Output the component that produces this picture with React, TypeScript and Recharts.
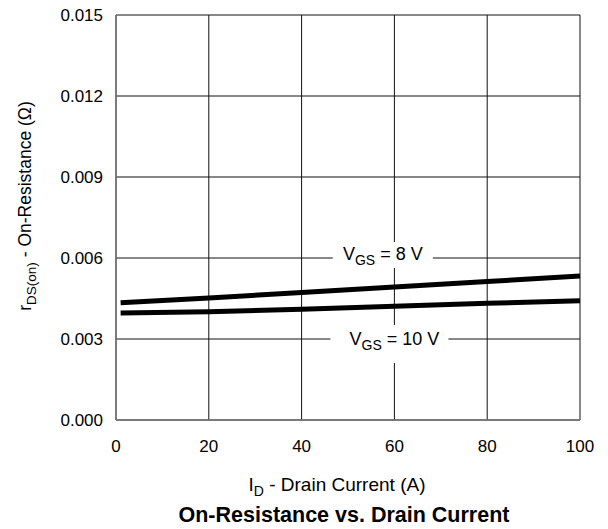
import React from 'react';
import { LineChart, Line, XAxis, YAxis, CartesianGrid, ReferenceDot } from 'recharts';

const drainCurrent = [1, 20, 40, 60, 80, 100];
const rdsVgs8 = [0.00434, 0.00452, 0.00472, 0.00493, 0.00513, 0.00533];
const rdsVgs10 = [0.00396, 0.00401, 0.0041, 0.00421, 0.00432, 0.00442];
const xTicks = [0, 20, 40, 60, 80, 100];
const yTicks = [0, 0.003, 0.006, 0.009, 0.012, 0.015];

const data = drainCurrent.map((id, i) => ({ id, v8: rdsVgs8[i], v10: rdsVgs10[i] }));

const FONT = '"Liberation Sans", Arial, Helvetica, sans-serif';

const Label8 = (props: any) => {
  const { cx, cy } = props;
  return (
    <g>
      <rect x={cx - 50} y={cy - 16} width={100} height={26} fill="#fff" />
      <text x={cx} y={cy + 2} textAnchor="middle" fontFamily={FONT} fontSize={18} fill="#000">
        V<tspan dy={5} fontSize={14}>GS</tspan><tspan dy={-5}> = 8 V</tspan>
      </text>
    </g>
  );
};

const Label10 = (props: any) => {
  const { cx, cy } = props;
  return (
    <g>
      <rect x={cx - 64} y={cy - 14} width={118} height={38} fill="#fff" />
      <text x={cx} y={cy + 6} textAnchor="middle" fontFamily={FONT} fontSize={18} fill="#000">
        V<tspan dy={5} fontSize={14}>GS</tspan><tspan dy={-5}> = 10 V</tspan>
      </text>
    </g>
  );
};

const XLabel = () => (
  <g>
    <text x={337} y={491} textAnchor="middle" fontFamily={FONT} fontSize={19} fill="#000">
      I<tspan dy={5} fontSize={14}>D</tspan><tspan dy={-5}> - Drain Current (A)</tspan>
    </text>
    <text x={344} y={522} textAnchor="middle" fontFamily={FONT} fontSize={21.5} fontWeight="bold" fill="#000">
      On-Resistance vs. Drain Current
    </text>
  </g>
);

const YLabel = () => (
  <text x={31} y={206} transform="rotate(-90, 31, 206)" textAnchor="middle" fontFamily={FONT} fontSize={17.5} fill="#000">
    r<tspan dy={5} fontSize={13.5}>DS(on)</tspan><tspan dy={-5}> - On-Resistance (Ω)</tspan>
  </text>
);

export default function App() {
  return (
    <div style={{ position: 'absolute', left: 0, top: 0, width: 608, height: 529, background: '#fff' }}>
      <LineChart width={608} height={529} data={data} margin={{ top: 15, right: 28, bottom: 0, left: 0 }}>
        <CartesianGrid stroke="#111" strokeWidth={1} />
        <XAxis
          dataKey="id"
          type="number"
          domain={[0, 100]}
          ticks={xTicks}
          height={109}
          tickSize={0}
          tickMargin={20}
          stroke="#777"
          strokeWidth={1.5}
          tick={{ fontSize: 17, fill: '#000', fontFamily: FONT }}
          label={{ content: XLabel }}
        />
        <YAxis
          type="number"
          domain={[0, 0.015]}
          ticks={yTicks}
          width={116}
          tickSize={0}
          tickMargin={13}
          stroke="#777"
          strokeWidth={1.5}
          tickFormatter={(v: number) => v.toFixed(3)}
          tick={{ fontSize: 17, fill: '#000', fontFamily: FONT }}
          label={{ content: YLabel }}
        />
        <Line type="linear" dataKey="v8" stroke="#000" strokeWidth={5} dot={false} isAnimationActive={false} />
        <Line type="linear" dataKey="v10" stroke="#000" strokeWidth={5} dot={false} isAnimationActive={false} />
        <ReferenceDot x={57.5} y={0.006} r={0} shape={Label8} />
        <ReferenceDot x={60} y={0.003} r={0} shape={Label10} />
      </LineChart>
    </div>
  );
}
